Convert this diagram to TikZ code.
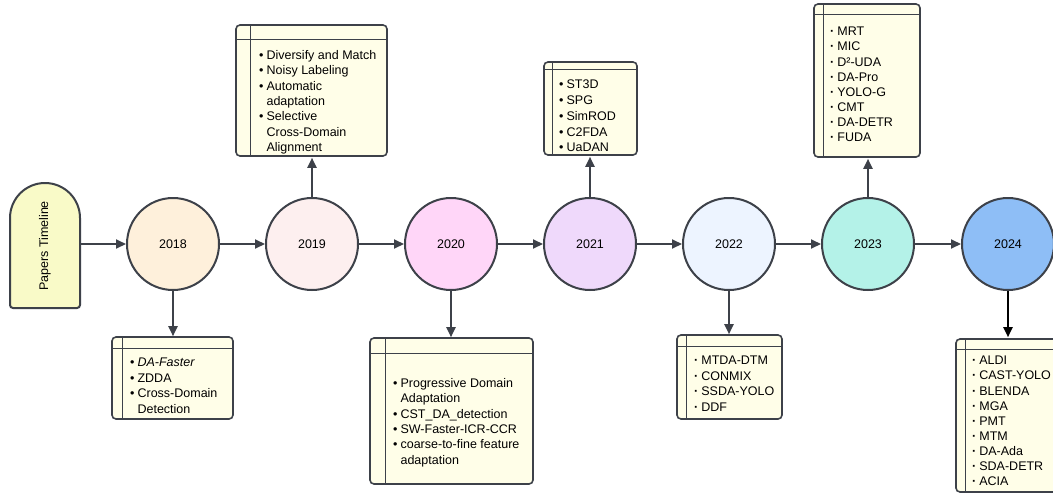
\documentclass[tikz,border=0pt]{standalone}
\usepackage{fontspec}
\setmainfont{Liberation Sans}
\usetikzlibrary{arrows.meta}
\definecolor{bd}{HTML}{3D4149}
\definecolor{boxfill}{HTML}{FFFEE8}
\definecolor{papfill}{HTML}{F9FAC8}
\definecolor{c18}{HTML}{FEF0DB}
\definecolor{c19}{HTML}{FDEFEF}
\definecolor{c20}{HTML}{FFD6F8}
\definecolor{c21}{HTML}{EFD9FB}
\definecolor{c22}{HTML}{EDF4FF}
\definecolor{c23}{HTML}{B4F2E8}
\definecolor{c24}{HTML}{8EBEF6}
\newcommand\bul{\textbullet\hspace{3pt}}
\newcommand\ind{\hphantom{\textbullet\hspace{3pt}}}
\newcommand\sdot{\textbf{·}\hspace{3pt}}
\tikzset{
  year/.style={circle, draw=bd, line width=2pt, minimum size=92pt, inner sep=0pt, font=\fontsize{12.5}{15}\selectfont},
  listbox/.style={rectangle, draw=bd, line width=1.6pt, rounded corners=4pt, fill=boxfill, inner sep=0pt},
  inner/.style={draw=bd, line width=1.4pt},
  itemtext/.style={anchor=north west, inner sep=0pt, align=left, font=\fontsize{12.5}{15.4}\selectfont},
  conn/.style={draw=bd, line width=2pt, -{Triangle[length=10pt,width=9pt]}},
  connk/.style={draw=black, line width=2pt, -{Triangle[length=10pt,width=9pt]}}
}
\begin{document}
\begin{tikzpicture}[x=1pt,y=-1pt]
\useasboundingbox (0,0) rectangle (1053,493);
\clip (0,0) rectangle (1053,493);
\fill[white] (0,0) rectangle (1053,493);
% Papers Timeline shape
\draw[bd, line width=2pt, fill=papfill] (10,218) -- (10,305) arc[start angle=180, end angle=270, radius=3pt] -- (77,308) arc[start angle=270, end angle=360, radius=3pt] -- (80,218) arc[start angle=0, end angle=180, radius=35pt] -- cycle;
\node[minimum width=70pt, minimum height=126pt, inner sep=0pt] (pap) at (45,245) {};
\node[rotate=90, font=\fontsize{12.5}{15}\selectfont] (paptxt) at (45,246) {Papers Timeline};
% year circles
\node[year, fill=c18] (y18) at (173,244) {2018};
\node[year, fill=c19] (y19) at (312,244) {2019};
\node[year, fill=c20] (y20) at (451,244) {2020};
\node[year, fill=c21] (y21) at (590,244) {2021};
\node[year, fill=c22] (y22) at (729,244) {2022};
\node[year, fill=c23] (y23) at (868,244) {2023};
\node[year, fill=c24] (y24) at (1008,244) {2024};
% horizontal arrows
\draw[conn] (pap.east |- y18.west) -- (y18.west);
\draw[conn] (y18.east) -- (y19.west);
\draw[conn] (y19.east) -- (y20.west);
\draw[conn] (y20.east) -- (y21.west);
\draw[conn] (y21.east) -- (y22.west);
\draw[conn] (y22.east) -- (y23.west);
\draw[conn] (y23.east) -- (y24.west);
% boxes
\node[listbox, minimum width=121pt, minimum height=82pt] (b18) at (172.5,378) {};
\draw[inner] ([yshift=-12pt]b18.north west) -- ([yshift=-12pt]b18.north east);
\draw[inner] ([xshift=11pt]b18.north west) -- ([xshift=11pt]b18.south west);
\node[itemtext] (t18) at (130,358) {\bul\textit{DA-Faster}\\\bul ZDDA\\\bul Cross-Domain\\\ind Detection};

\node[listbox, minimum width=151pt, minimum height=131pt] (b19) at (311.5,90.5) {};
\draw[inner] ([yshift=-15pt]b19.north west) -- ([yshift=-15pt]b19.north east);
\draw[inner] ([xshift=15pt]b19.north west) -- ([xshift=15pt]b19.south west);
\node[itemtext] (t19) at (259,50) {\bul Diversify and Match\\\bul Noisy Labeling\\\bul Automatic\\\ind adaptation\\\bul Selective\\\ind Cross-Domain\\\ind Alignment};

\node[listbox, minimum width=163pt, minimum height=146pt] (b20) at (451.5,411) {};
\draw[inner] ([yshift=-16pt]b20.north west) -- ([yshift=-16pt]b20.north east);
\draw[inner] ([xshift=16pt]b20.north west) -- ([xshift=16pt]b20.south west);
\node[itemtext] (t20) at (393,378) {\bul Progressive Domain\\\ind Adaptation\\\bul CST\_DA\_detection\\\bul SW-Faster-ICR-CCR\\\bul coarse-to-fine feature\\\ind adaptation};

\node[listbox, minimum width=93pt, minimum height=93pt] (b21) at (590.5,108.5) {};
\draw[inner] ([yshift=-8pt]b21.north west) -- ([yshift=-8pt]b21.north east);
\draw[inner] ([xshift=9pt]b21.north west) -- ([xshift=9pt]b21.south west);
\node[itemtext, font=\fontsize{12.5}{15.7}\selectfont] (t21) at (559,80) {\bul ST3D\\\bul SPG\\\bul SimROD\\\bul C2FDA\\\bul UaDAN};

\node[listbox, minimum width=105pt, minimum height=84pt] (b22) at (729.5,377) {};
\draw[inner] ([yshift=-12pt]b22.north west) -- ([yshift=-12pt]b22.north east);
\draw[inner] ([xshift=10pt]b22.north west) -- ([xshift=10pt]b22.south west);
\node[itemtext] (t22) at (694,356) {\sdot MTDA-DTM\\\sdot CONMIX\\\sdot SSDA-YOLO\\\sdot DDF};

\node[listbox, minimum width=106pt, minimum height=153pt] (b23) at (867,80.5) {};
\draw[inner] ([yshift=-11pt]b23.north west) -- ([yshift=-11pt]b23.north east);
\draw[inner] ([xshift=10pt]b23.north west) -- ([xshift=10pt]b23.south west);
\node[itemtext, font=\fontsize{12.5}{15.1}\selectfont] (t23) at (830,27) {\sdot MRT\\\sdot MIC\\\sdot D²-UDA\\\sdot DA-Pro\\\sdot YOLO-G\\\sdot CMT\\\sdot DA-DETR\\\sdot FUDA};

\node[listbox, minimum width=114pt, minimum height=153pt] (b24) at (1013,415.5) {};
\draw[inner] ([yshift=-11pt]b24.north west) -- ([yshift=-11pt]b24.north east);
\draw[inner] ([xshift=10pt]b24.north west) -- ([xshift=10pt]b24.south west);
\node[itemtext, font=\fontsize{12.5}{15.1}\selectfont] (t24) at (972,356) {\sdot ALDI\\\sdot CAST-YOLO\\\sdot BLENDA\\\sdot MGA\\\sdot PMT\\\sdot MTM\\\sdot DA-Ada\\\sdot SDA-DETR\\\sdot ACIA};
% vertical arrows
\draw[conn] (y18.south) -- (b18.north -| y18.south);
\draw[conn] (y19.north) -- ([yshift=-1pt]b19.south -| y19.north);
\draw[conn] (y20.south) -- (b20.north -| y20.south);
\draw[conn] (y21.north) -- ([yshift=-1pt]b21.south -| y21.north);
\draw[conn] (y22.south) -- (b22.north -| y22.south);
\draw[conn] (y23.north) -- ([yshift=-1pt]b23.south -| y23.north);
\draw[connk] (y24.south) -- ([yshift=1pt]b24.north -| y24.south);
\end{tikzpicture}
\end{document}
